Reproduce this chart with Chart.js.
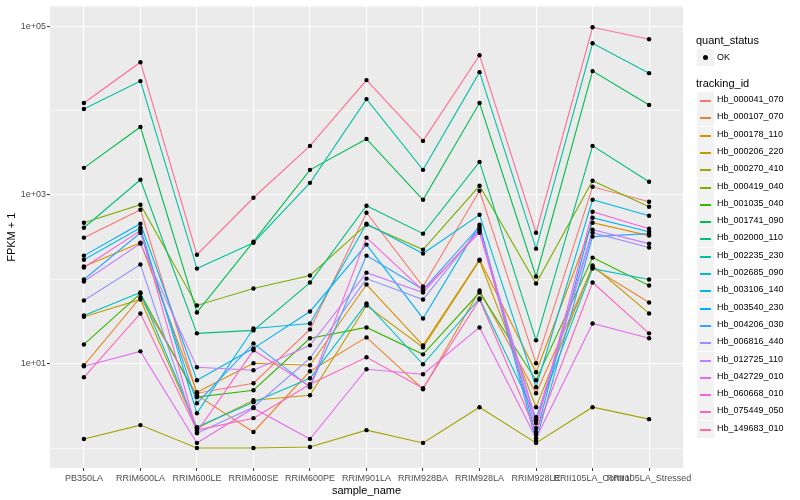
<!DOCTYPE html>
<html>
<head>
<meta charset="utf-8">
<script src="https://cdn.jsdelivr.net/npm/chart.js@4.4.1/dist/chart.umd.min.js"></script>
<style>
  html, body { margin:0; padding:0; background:#ffffff; }
  #wrap { position:relative; width:800px; height:500px; overflow:hidden; font-family:"Liberation Sans", Arial, Helvetica, sans-serif; }
  canvas { position:absolute; left:0; top:0; }
  .lg-title { position:absolute; left:696px; font-size:11px; color:#000; line-height:13px; white-space:nowrap; }
  .lg-key { position:absolute; left:697px; width:17px; height:17px; background:#F2F2F2; }
  .lg-line { position:absolute; left:3px; top:8px; width:11px; height:2px; }
  .lg-dot { position:absolute; left:6px; top:6px; width:5px; height:5px; border-radius:50%; background:#000; }
  .lg-text { position:absolute; left:717px; font-size:9px; color:#000; line-height:11px; white-space:nowrap; }
</style>
</head>
<body>
<div id="wrap">
  <canvas id="c" width="800" height="500"></canvas>
  <div id="legend"></div>
</div>
<script>
// ---------------- data ----------------
const categories = ['PB350LA','RRIM600LA','RRIM600LE','RRIM600SE','RRIM600PE','RRIM901LA','RRIM928BA','RRIM928LA','RRIM928LE','RRII105LA_Control','RRII105LA_Stressed'];

const trackingIds = ['Hb_000041_070','Hb_000107_070','Hb_000178_110','Hb_000206_220','Hb_000270_410','Hb_000419_040','Hb_001035_040','Hb_001741_090','Hb_002000_110','Hb_002235_230','Hb_002685_090','Hb_003106_140','Hb_003540_230','Hb_004206_030','Hb_006816_440','Hb_012725_110','Hb_042729_010','Hb_060668_010','Hb_075449_050','Hb_149683_010'];

const seriesColors = ['#F8766D','#EA8331','#D89000','#C09B00','#A3A500','#7CAE00','#39B600','#00BB4E','#00BF7D','#00C1A3','#00BFC4','#00BAE0','#00B0F6','#35A2FF','#9590FF','#C77CFF','#E76BF3','#FA62DB','#FF62BC','#FF6C91'];

// FPKM + 1 per sample (same order as categories)
const Hb_000041_070 = [312, 668, 4.47, 5.86, 25.5, 616, 82.2, 1122, 10.1, 1250, 832];
const Hb_000107_070 = [9.57, 61.0, 4.23, 1.55, 8.13, 20.5, 4.98, 73.8, 4.47, 138, 53.2];
const Hb_000178_110 = [142, 272, 4.59, 10.1, 9.57, 86.8, 16.5, 171, 7.91, 469, 330];
const Hb_000206_220 = [36, 57.7, 1.72, 3.69, 4.23, 49, 15.6, 167, 3.05, 146, 39.4];
const Hb_000270_410 = [1.28, 1.87, 1.0, 1.0, 1.03, 1.63, 1.15, 3.05, 1.15, 3.05, 2.20];
const Hb_000419_040 = [469, 766, 49, 77.8, 111, 445, 225, 1285, 89.1, 1472, 726];
const Hb_001035_040 = [16.9, 67.9, 4.01, 4.85, 20.0, 26.9, 12.9, 69.8, 6.37, 181, 84.5];
const Hb_001741_090 = [2098, 6400, 40.5, 280, 1986, 4615, 877, 12300, 108, 29400, 11650];
const Hb_002000_110 = [409, 1514, 22.9, 24.8, 91.6, 745, 348, 2466, 18.9, 3820, 1432];
const Hb_002235_230 = [10450, 22400, 134, 272, 1393, 13700, 1986, 28600, 231, 62900, 27800];
const Hb_002685_090 = [37.3, 69.8, 1.77, 3.50, 6.71, 51.8, 9.84, 59.3, 2.32, 134, 99.5];
const Hb_003106_140 = [171, 409, 2.59, 26.2, 30.0, 457, 202, 583, 5.26, 877, 568];
const Hb_003540_230 = [191, 457, 6.37, 15.2, 41.6, 258, 34.4, 445, 1.43, 537, 367];
const Hb_004206_030 = [99.5, 357, 3.40, 17.4, 5.26, 191, 75.7, 421, 1.21, 321, 348];
const Hb_006816_440 = [56.1, 150, 1.50, 3.05, 11.6, 102, 57.7, 398, 1.98, 357, 238];
const Hb_012725_110 = [94.2, 265, 9.06, 8.36, 16.5, 120, 69.8, 378, 2.14, 388, 265];
const Hb_042729_010 = [9.31, 14.0, 1.15, 2.97, 1.28, 8.59, 7.50, 26.9, 1.31, 30.0, 20.0];
const Hb_060668_010 = [138, 378, 1.55, 14.4, 5.41, 312, 73.8, 357, 1.72, 632, 398];
const Hb_075449_050 = [6.90, 39.4, 1.63, 2.26, 5.71, 11.9, 5.12, 57.7, 1.55, 91.6, 22.9];
const Hb_149683_010 = [12300, 37500, 196, 927, 3820, 23000, 4375, 45400, 357, 97300, 70200];

const seriesValues = [Hb_000041_070, Hb_000107_070, Hb_000178_110, Hb_000206_220, Hb_000270_410, Hb_000419_040, Hb_001035_040, Hb_001741_090, Hb_002000_110, Hb_002235_230, Hb_002685_090, Hb_003106_140, Hb_003540_230, Hb_004206_030, Hb_006816_440, Hb_012725_110, Hb_042729_010, Hb_060668_010, Hb_075449_050, Hb_149683_010];

const yGridValues = [1, 10, 100, 1000, 10000, 100000];
const yTickValues = [10, 1000, 100000];
const yTickLabels = ['1e+01', '1e+03', '1e+05'];
const quantStatus = ['OK'];

// ---------------- chart ----------------
const FONT = '"Liberation Sans", Arial, Helvetica, sans-serif';

const lineDatasets = seriesValues.map((vals, i) => ({
  type: 'line',
  label: trackingIds[i],
  data: vals.map((v, k) => ({ x: k, y: v })),
  borderColor: seriesColors[i],
  backgroundColor: seriesColors[i],
  borderWidth: 1.1,
  pointRadius: 0,
  fill: false,
  tension: 0,
  order: 40 - i
}));

const pointData = [];
seriesValues.forEach(vals => vals.forEach((v, k) => pointData.push({ x: k, y: v })));

const pointDataset = {
  type: 'scatter',
  label: quantStatus[0],
  data: pointData,
  showLine: false,
  pointRadius: 2.2,
  pointBorderWidth: 0,
  pointBackgroundColor: '#000000',
  pointBorderColor: '#000000',
  order: 0
};

const panelBg = {
  id: 'panelBg',
  beforeDraw(chart) {
    const { ctx, chartArea: a } = chart;
    ctx.save();
    ctx.fillStyle = '#EBEBEB';
    ctx.fillRect(a.left, a.top, a.right - a.left, a.bottom - a.top);
    ctx.restore();
  }
};

const isMajor = v => yTickValues.indexOf(v) !== -1;

new Chart(document.getElementById('c'), {
  type: 'line',
  data: { datasets: [...lineDatasets, pointDataset] },
  options: {
    responsive: false,
    animation: false,
    devicePixelRatio: 1,
    layout: { padding: { left: 0, right: 117, top: 5, bottom: 0 } },
    plugins: { legend: { display: false }, tooltip: { enabled: false } },
    events: [],
    scales: {
      x: {
        type: 'linear',
        min: -0.6,
        max: categories.length - 1 + 0.6,
        afterBuildTicks: s => { s.ticks = categories.map((c, i) => ({ value: i })); },
        afterFit: s => { s.height = 32; },
        ticks: {
          callback: v => categories[v],
          autoSkip: false, maxRotation: 0, minRotation: 0,
          font: { family: FONT, size: 9 }, color: '#4D4D4D', padding: 2
        },
        grid: { color: '#FFFFFF', lineWidth: 1.1, tickLength: 3, tickColor: '#333333', tickWidth: 1 },
        border: { display: false },
        title: { display: true, text: 'sample_name', color: '#000000', font: { family: FONT, size: 11 }, padding: { top: 0, bottom: 2.5 } }
      },
      y: {
        type: 'logarithmic',
        min: 0.58,
        max: 172000,
        afterBuildTicks: s => { s.ticks = yGridValues.map(v => ({ value: v })); },
        afterFit: s => { s.width = 50; },
        ticks: {
          callback: v => { const i = yTickValues.indexOf(v); return i === -1 ? '' : yTickLabels[i]; },
          autoSkip: false,
          font: { family: FONT, size: 9 }, color: '#4D4D4D', padding: 1
        },
        grid: {
          color: '#FFFFFF',
          lineWidth: c => (c.tick && isMajor(c.tick.value)) ? 1.1 : 0.55,
          tickLength: 3,
          tickColor: c => (c.tick && isMajor(c.tick.value)) ? '#333333' : 'rgba(0,0,0,0)',
          tickWidth: 1
        },
        border: { display: false },
        title: { display: true, text: 'FPKM + 1', color: '#000000', font: { family: FONT, size: 11 }, padding: { top: 5.4, bottom: 0 } }
      }
    }
  },
  plugins: [panelBg]
});

// ---------------- legend (HTML) ----------------
const lg = document.getElementById('legend');
function add(html) { lg.insertAdjacentHTML('beforeend', html); }
add('<div class="lg-title" style="top:34px">quant_status</div>');
add('<div class="lg-key" style="top:49px"><div class="lg-dot"></div></div>');
add('<div class="lg-text" style="top:52px">' + quantStatus[0] + '</div>');
add('<div class="lg-title" style="top:77px">tracking_id</div>');
trackingIds.forEach((id, i) => {
  const cy = Math.round(100 + i * 17.3);
  add('<div class="lg-key" style="top:' + (cy - 8) + 'px"><div class="lg-line" style="background:' + seriesColors[i] + '"></div></div>');
  add('<div class="lg-text" style="top:' + (cy - 6) + 'px">' + id + '</div>');
});
</script>
</body>
</html>
